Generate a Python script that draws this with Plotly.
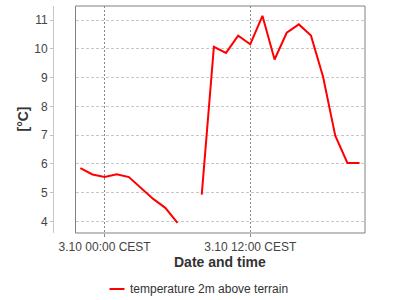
import plotly.graph_objects as go

times = [
    "2023-10-02 22:00", "2023-10-02 23:00", "2023-10-03 00:00", "2023-10-03 01:00",
    "2023-10-03 02:00", "2023-10-03 03:00", "2023-10-03 04:00", "2023-10-03 05:00",
    "2023-10-03 06:00", "2023-10-03 07:00", "2023-10-03 08:00", "2023-10-03 09:00",
    "2023-10-03 10:00", "2023-10-03 11:00", "2023-10-03 12:00", "2023-10-03 13:00",
    "2023-10-03 14:00", "2023-10-03 15:00", "2023-10-03 16:00", "2023-10-03 17:00",
    "2023-10-03 18:00", "2023-10-03 19:00", "2023-10-03 20:00", "2023-10-03 21:00",
]
temperature = [
    5.85, 5.63, 5.54, 5.64, 5.54, 5.16, 4.78, 4.47, 3.95, None, 4.93, 10.07,
    9.86, 10.46, 10.16, 11.15, 9.63, 10.56, 10.85, 10.46, 9.02, 6.98, 6.03, 6.03,
]
series_name = "temperature 2m above terrain"
x_title = "Date and time"
y_title = "[°C]"

FONT = "Liberation Sans, Arial, sans-serif"
W, H = 400, 300
ML, MR, MT, MB = 53, 35, 6, 67
plot_w = W - ML - MR
plot_h = H - MT - MB
x_left_px = 75.5  # left edge of plot frame
xdom0 = (x_left_px - ML) / plot_w

fig = go.Figure()
fig.add_trace(go.Scatter(
    x=times, y=temperature, mode="lines", name=series_name,
    line=dict(color="#ff0000", width=2), connectgaps=False, showlegend=False,
))

fig.update_layout(
    width=W, height=H,
    margin=dict(l=ML, r=MR, t=MT, b=MB),
    paper_bgcolor="white", plot_bgcolor="white",
    font=dict(family=FONT, size=12, color="#444444"),
    xaxis=dict(
        domain=[xdom0, 1],
        type="date",
        range=["2023-10-02 21:36", "2023-10-03 21:27"],
        tick0="2023-10-03 00:00", dtick=12 * 3600 * 1000,
        tickformat="%-d.%-m %H:%M CEST",
        ticks="outside", ticklen=3, tickcolor="#888888",
        showgrid=True, gridcolor="#888888", griddash="2px,2px", gridwidth=1,
        showline=False, zeroline=False,
        tickfont=dict(size=12, color="#444444"),
    ),
    yaxis=dict(
        anchor="free", position=0,
        range=[3.594, 11.49],
        tick0=0, dtick=1,
        ticks="outside", ticklen=3, tickcolor="#c0c0c0",
        showline=True, linecolor="#c8c8c8", linewidth=1,
        showgrid=True, gridcolor="#c8c8c8", griddash="3px,2px", gridwidth=1,
        zeroline=False,
        tickfont=dict(size=12, color="#444444"),
    ),
    shapes=[
        dict(type="rect", xref="x domain", yref="y domain", x0=0, x1=1, y0=0, y1=1,
             line=dict(color="#808080", width=1), layer="above"),
        # legend sample line
        dict(type="line", xref="paper", yref="paper",
             x0=(109.5 - ML) / plot_w, x1=(124.5 - ML) / plot_w,
             y0=-(289 - (H - MB)) / plot_h, y1=-(289 - (H - MB)) / plot_h,
             line=dict(color="#ff0000", width=2)),
    ],
    annotations=[
        dict(text=x_title, xref="x domain", yref="paper", x=0.5,
             y=-(262 - (H - MB)) / plot_h, xanchor="center", yanchor="middle",
             showarrow=False, font=dict(family=FONT, size=14, color="#333333", weight="bold")),
        dict(text=y_title, xref="paper", yref="paper", x=(22 - ML) / plot_w,
             y=0.5, xanchor="center", yanchor="middle", textangle=-90,
             showarrow=False, font=dict(family=FONT, size=14, color="#333333", weight="bold")),
        dict(text=series_name, xref="paper", yref="paper", x=(128 - ML) / plot_w,
             y=-(289 - (H - MB)) / plot_h, xanchor="left", yanchor="middle",
             showarrow=False, font=dict(family=FONT, size=12, color="#333333")),
    ],
)

fig.write_html("out.html")
